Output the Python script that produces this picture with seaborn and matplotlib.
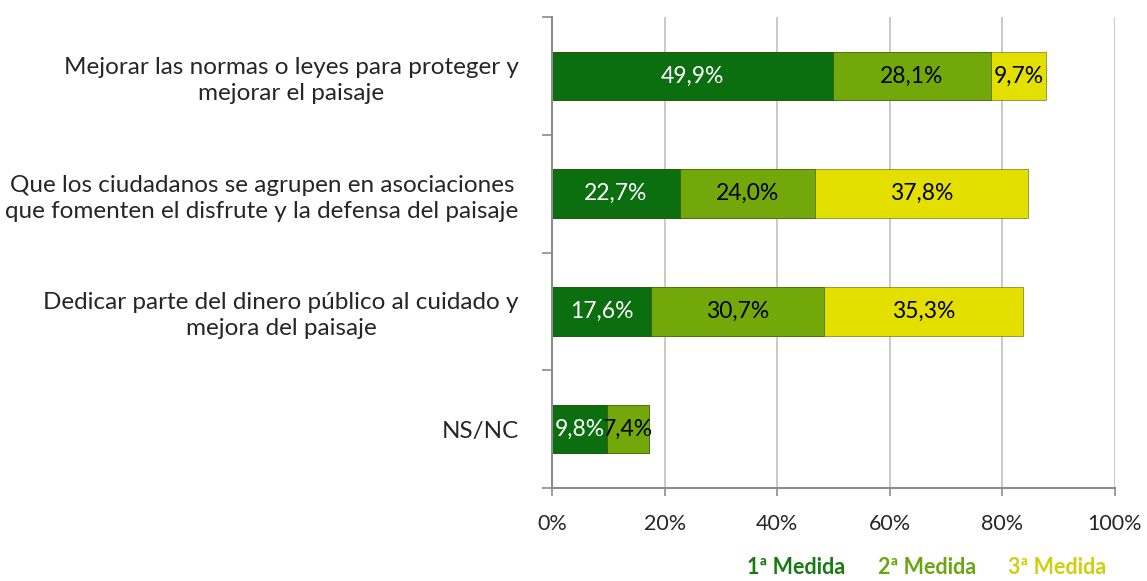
import numpy as np
import pandas as pd
import matplotlib
matplotlib.use("Agg")
import matplotlib.pyplot as plt
import seaborn as sns
from matplotlib.ticker import FixedLocator

categories = [
    "Mejorar las normas o leyes para proteger y\nmejorar el paisaje",
    "Que los ciudadanos se agrupen en asociaciones\nque fomenten el disfrute y la defensa del paisaje",
    "Dedicar parte del dinero público al cuidado y\nmejora del paisaje",
    "NS/NC",
]
medida1 = [49.9, 22.7, 17.6, 9.8]
medida2 = [28.1, 24.0, 30.7, 7.4]
medida3 = [9.7, 37.8, 35.3, 0.0]
series_names = ["1ª Medida", "2ª Medida", "3ª Medida"]
xticks = [0, 20, 40, 60, 80, 100]

bar_colors = ["#0B6E0F", "#72A80A", "#E3E000"]
legend_colors = ["#1A7A12", "#6BA512", "#CFCF10"]
label_colors = ["white", "black", "black"]

sns.set_style("white")
plt.rcParams['font.family'] = ['Lato', 'DejaVu Sans']

fig = plt.figure(figsize=(11.47, 5.81), dpi=100)
ax = fig.add_axes([552/1147, 1-488/581, (1115-552)/1147, (488-17)/581])

series = [medida1, medida2, medida3]
cum = np.cumsum(np.array(series), axis=0)
df = pd.DataFrame({"cat": categories})
for i in range(3):
    df[f"c{i}"] = cum[i]

# draw from largest cumulative to smallest
for i in [2, 1, 0]:
    sns.barplot(data=df, x=f"c{i}", y="cat", orient="h", color=bar_colors[i],
                width=0.41, saturation=1, edgecolor="#5a5a00" if i == 2 else "#2a4a00",
                linewidth=0.4, ax=ax)

# data labels
for i in range(3):
    for j, v in enumerate(series[i]):
        if v <= 0:
            continue
        start = cum[i][j] - v
        ax.text(start + v/2, j, f"{v:.1f}".replace(".", ",") + "%",
                ha="center", va="center", fontsize=16.5, color=label_colors[i])

ax.set_xlim(0, 100)
ax.set_ylim(3.5, -0.5)
ax.set_xticks(xticks)
ax.set_xticklabels([f"{t}%" for t in xticks], fontsize=15.5)
ax.set_xlabel("")
ax.set_ylabel("")
ax.tick_params(axis="y", which="major", length=0, pad=24, labelsize=17.5)
for lab in ax.get_yticklabels():
    lab.set_multialignment("center")
    lab.set_linespacing(1.3)
ax.yaxis.set_minor_locator(FixedLocator([-0.5, 0.5, 1.5, 2.5, 3.5]))
ax.tick_params(axis="y", which="minor", length=7, width=1.2, color="#8c8c8c", left=True)
ax.tick_params(axis="x", which="major", length=6, width=1.2, color="#8c8c8c",
               bottom=True, pad=13)
ax.grid(axis="x", color="#c0c0c0", linewidth=1.2)
ax.set_axisbelow(True)
for s in ["top", "right"]:
    ax.spines[s].set_visible(False)
for s in ["left", "bottom"]:
    ax.spines[s].set_color("#8c8c8c")
    ax.spines[s].set_linewidth(1.5)

xs = [747, 878, 1008]
for name, col, x in zip(series_names, legend_colors, xs):
    fig.text(x/1147, 1-568/581, name, color=col, fontsize=15.5, fontweight="bold",
             ha="left", va="center")

fig.savefig("out.png", dpi=100)
